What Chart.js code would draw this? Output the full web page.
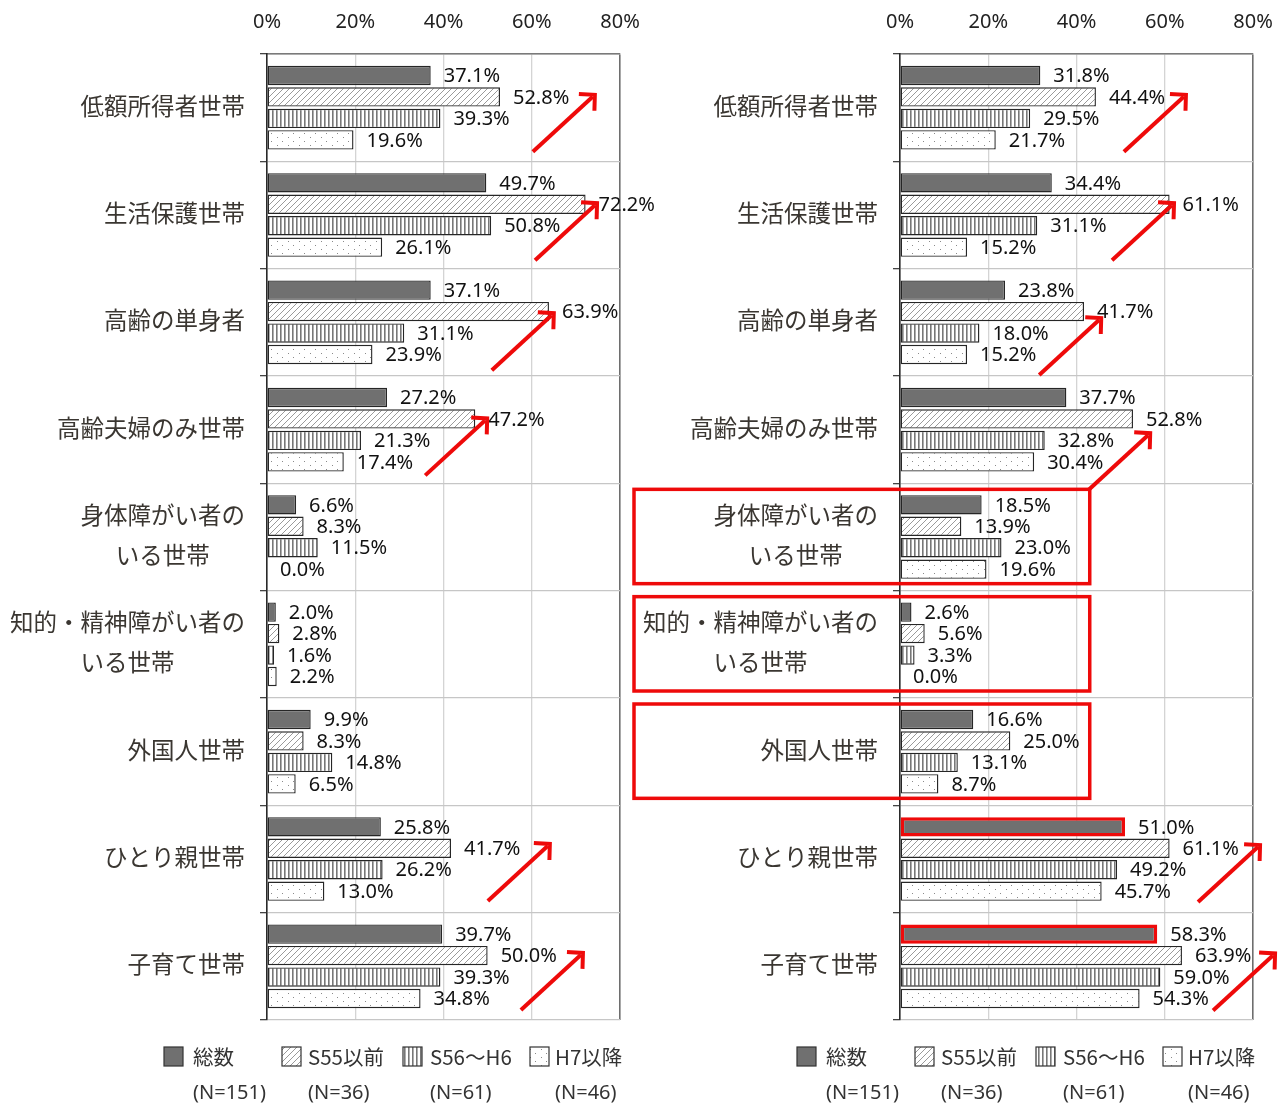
<!DOCTYPE html>
<html lang="ja">
<head>
<meta charset="utf-8">
<script src="https://cdn.jsdelivr.net/npm/chart.js@4.4.1/dist/chart.umd.min.js"></script>
<style>
  html, body { margin: 0; padding: 0; background: #fff; }
  #wrap { position: relative; width: 1285px; height: 1106px; overflow: hidden; }
  canvas { position: absolute; top: 0; }
  #leftChart { left: 0; }
  #rightChart { left: 630px; }
</style>
</head>
<body>
<div id="wrap">
  <canvas id="leftChart" width="660" height="1106"></canvas>
  <canvas id="rightChart" width="663" height="1106"></canvas>
</div>
<script>
// household categories (multi-line labels are arrays)
const categories = [
  ['低額所得者世帯'],
  ['生活保護世帯'],
  ['高齢の単身者'],
  ['高齢夫婦のみ世帯'],
  ['身体障がい者の', 'いる世帯'],
  ['知的・精神障がい者の', 'いる世帯'],
  ['外国人世帯'],
  ['ひとり親世帯'],
  ['子育て世帯']
];
const seriesNames = ['総数', 'S55以前', 'S56～H6', 'H7以降'];
const sampleSizes = ['(N=151)', '(N=36)', '(N=61)', '(N=46)'];

// left panel (%)
const leftTotal = [37.1, 49.7, 37.1, 27.2, 6.6, 2.0, 9.9, 25.8, 39.7];
const leftS55   = [52.8, 72.2, 63.9, 47.2, 8.3, 2.8, 8.3, 41.7, 50.0];
const leftS56H6 = [39.3, 50.8, 31.1, 21.3, 11.5, 1.6, 14.8, 26.2, 39.3];
const leftH7    = [19.6, 26.1, 23.9, 17.4, 0.0, 2.2, 6.5, 13.0, 34.8];

// right panel (%)
const rightTotal = [31.8, 34.4, 23.8, 37.7, 18.5, 2.6, 16.6, 51.0, 58.3];
const rightS55   = [44.4, 61.1, 41.7, 52.8, 13.9, 5.6, 25.0, 61.1, 63.9];
const rightS56H6 = [29.5, 31.1, 18.0, 32.8, 23.0, 3.3, 13.1, 49.2, 59.0];
const rightH7    = [21.7, 15.2, 15.2, 30.4, 19.6, 0.0, 8.7, 45.7, 54.3];

// red trend arrows: tip at (value %, category index + fraction of a category)
const leftArrows = [
  { cat: 0, value: 74.3, dy: -0.12 },
  { cat: 1, value: 74.8, dy: -0.11 },
  { cat: 2, value: 65.0, dy: -0.085 },
  { cat: 3, value: 49.9, dy: -0.105 },
  { cat: 7, value: 64.1, dy: -0.14 },
  { cat: 8, value: 71.6, dy: -0.125 }
];
const rightArrows = [
  { cat: 0, value: 64.8, dy: -0.12 },
  { cat: 1, value: 62.1, dy: -0.11 },
  { cat: 2, value: 45.6, dy: -0.04 },
  { cat: 3, value: 56.7, dy: 0.033 },
  { cat: 7, value: 81.6, dy: -0.13 },
  { cat: 8, value: 85.0, dy: -0.12 }
];
const rightBoxedCats = [4, 5, 6];
const rightOutlinedTotals = [7, 8];

const RED = '#ee0a0a';

function makePattern(kind) {
  const c = document.createElement('canvas');
  const g = c.getContext('2d');
  if (kind === 'diag') {
    c.width = 6; c.height = 6;
    g.fillStyle = '#fff'; g.fillRect(0, 0, 6, 6);
    g.strokeStyle = '#8f8f8f'; g.lineWidth = 0.9;
    g.beginPath();
    g.moveTo(-1, 7); g.lineTo(7, -1);
    g.moveTo(-1, 1); g.lineTo(1, -1);
    g.moveTo(5, 7); g.lineTo(7, 5);
    g.stroke();
  } else if (kind === 'vert') {
    c.width = 4; c.height = 4;
    g.fillStyle = '#fff'; g.fillRect(0, 0, 4, 4);
    g.fillStyle = '#777'; g.fillRect(0, 0, 1.6, 4);
  } else {
    c.width = 11; c.height = 8;
    g.fillStyle = '#fff'; g.fillRect(0, 0, 11, 8);
    g.fillStyle = '#8a8a8a';
    g.fillRect(2, 1, 1, 1); g.fillRect(7, 5, 1, 1);
  }
  return g.createPattern(c, 'repeat');
}

const fills = ['#707070', makePattern('diag'), makePattern('vert'), makePattern('dots')];

// category labels: block right-aligned to the axis, lines centred inside the block
const categoryLabels = {
  id: 'categoryLabels',
  afterDraw(chart) {
    const ctx = chart.ctx;
    const y = chart.scales.y;
    const right = chart.chartArea.left - 22;
    ctx.save();
    ctx.font = '23.5px "Noto Sans CJK JP", sans-serif';
    ctx.fillStyle = '#3a3631';
    ctx.textAlign = 'center';
    ctx.textBaseline = 'middle';
    chart.data.labels.forEach((lines, i) => {
      const cy = y.getPixelForValue(i);
      const maxW = Math.max(...lines.map(l => ctx.measureText(l).width));
      const cx = right - maxW / 2;
      lines.forEach((line, k) => {
        const ly = cy + (k - (lines.length - 1) / 2) * 40 - 2;
        ctx.fillText(line, cx, ly);
      });
    });
    ctx.restore();
  }
};

// value labels just past the end of each bar
const valueLabels = {
  id: 'valueLabels',
  afterDraw(chart) {
    const ctx = chart.ctx;
    ctx.save();
    ctx.font = '20px "Noto Sans", sans-serif';
    ctx.fillStyle = '#111';
    ctx.textAlign = 'left';
    ctx.textBaseline = 'middle';
    chart.data.datasets.forEach((ds, di) => {
      chart.getDatasetMeta(di).data.forEach((bar, i) => {
        ctx.fillText(ds.data[i].toFixed(1) + '%', bar.x + 13, bar.y + 1);
      });
    });
    ctx.restore();
  }
};

const trendArrows = {
  id: 'trendArrows',
  afterDraw(chart, args, opts) {
    const ctx = chart.ctx;
    const xs = chart.scales.x, ys = chart.scales.y;
    const catH = ys.getPixelForValue(1) - ys.getPixelForValue(0);
    ctx.save();
    ctx.strokeStyle = RED;
    ctx.lineWidth = 4;
    ctx.lineJoin = 'miter';
    (opts.arrows || []).forEach(a => {
      const tx = xs.getPixelForValue(a.value);
      const ty = ys.getPixelForValue(a.cat) + a.dy * catH;
      const sx = tx - 62, sy = ty + 57;
      const ang = Math.atan2(ty - sy, tx - sx);
      ctx.beginPath();
      ctx.moveTo(sx, sy);
      ctx.lineTo(tx - 3 * Math.cos(ang), ty - 3 * Math.sin(ang));
      ctx.stroke();
      ctx.beginPath();
      ctx.moveTo(tx + 16 * Math.cos(ang + Math.PI - 0.8), ty + 16 * Math.sin(ang + Math.PI - 0.8));
      ctx.lineTo(tx, ty);
      ctx.lineTo(tx + 16 * Math.cos(ang + Math.PI + 0.8), ty + 16 * Math.sin(ang + Math.PI + 0.8));
      ctx.stroke();
    });
    ctx.restore();
  }
};

const redBoxes = {
  id: 'redBoxes',
  afterDraw(chart, args, opts) {
    const cats = opts.cats || [];
    if (!cats.length) return;
    const ctx = chart.ctx;
    const xs = chart.scales.x, ys = chart.scales.y;
    const catH = ys.getPixelForValue(1) - ys.getPixelForValue(0);
    ctx.save();
    ctx.strokeStyle = RED;
    ctx.lineWidth = 3.5;
    cats.forEach(i => {
      const top = ys.getPixelForValue(i) - catH / 2 + 6;
      const bottom = ys.getPixelForValue(i) + catH / 2 - 7;
      const left = 4;
      const right = xs.getPixelForValue(43);
      ctx.strokeRect(left, top, right - left, bottom - top);
    });
    ctx.restore();
  }
};

// two-row legend under the plot: swatch + name, then sample size
const bottomLegend = {
  id: 'bottomLegend',
  afterDraw(chart) {
    const ctx = chart.ctx;
    const { left, bottom } = chart.chartArea;
    const swatchX = [-103, 15, 136, 263];
    const textX = [-74, 41, 163, 288];
    ctx.save();
    chart.data.datasets.forEach((ds, i) => {
      const sx = left + swatchX[i];
      ctx.fillStyle = ds.backgroundColor;
      ctx.fillRect(sx, bottom + 27, 19, 19);
      ctx.strokeStyle = '#333';
      ctx.lineWidth = 1.2;
      ctx.strokeRect(sx, bottom + 27, 19, 19);
      ctx.fillStyle = '#333';
      ctx.textAlign = 'left';
      ctx.textBaseline = 'middle';
      ctx.font = '20.5px "Noto Sans CJK JP", sans-serif';
      ctx.fillText(ds.label, left + textX[i], bottom + 37);
      ctx.font = '20px "Noto Sans", sans-serif';
      ctx.fillText(sampleSizes[i], left + textX[i], bottom + 73);
    });
    ctx.restore();
  }
};

function buildChart(canvasId, values, cfg) {
  const outlined = cfg.outlined || [];
  const datasets = seriesNames.map((name, si) => ({
    label: name,
    data: values[si],
    backgroundColor: fills[si],
    borderColor: c => (si === 0 && outlined.includes(c.dataIndex)) ? RED : '#262626',
    borderWidth: c => (si === 0 && outlined.includes(c.dataIndex)) ? 3.5 : 1.4,
    borderSkipped: false,
    categoryPercentage: 0.8,
    barPercentage: 0.9
  }));
  return new Chart(document.getElementById(canvasId), {
    type: 'bar',
    data: { labels: categories, datasets },
    plugins: [categoryLabels, valueLabels, trendArrows, redBoxes, bottomLegend],
    options: {
      indexAxis: 'y',
      responsive: false,
      animation: false,
      layout: { padding: { top: 0, right: 40, bottom: 86, left: 0 } },
      plugins: {
        legend: { display: false },
        tooltip: { enabled: false },
        trendArrows: { arrows: cfg.arrows },
        redBoxes: { cats: cfg.boxes || [] }
      },
      scales: {
        x: {
          position: 'top',
          min: 0,
          max: 80,
          ticks: {
            stepSize: 20,
            padding: 20,
            color: '#222',
            font: { family: '"Noto Sans", sans-serif', size: 20 },
            callback: v => v + '%'
          },
          grid: {
            drawTicks: false,
            color: c => (c.tick && c.tick.value === 80) ? '#6e6e6e' : '#d4d4d4',
            lineWidth: c => (c.tick && c.tick.value === 80) ? 1.6 : 1.3
          },
          border: { color: '#7a7a7a', width: 1.6 },
          afterFit: s => { s.height = 54; }
        },
        y: {
          ticks: { display: false },
          grid: {
            offset: true,
            tickLength: 7,
            tickColor: '#444',
            color: c => (c.index === 0 || c.index >= categories.length) ? '#8a8a8a' : '#c6c6c6',
            lineWidth: 1.3
          },
          border: { color: '#2a2a2a', width: 1.6 },
          afterFit: s => { s.width = cfg.axisWidth; }
        }
      }
    }
  });
}

buildChart('leftChart', [leftTotal, leftS55, leftS56H6, leftH7], {
  axisWidth: 267, arrows: leftArrows
});
buildChart('rightChart', [rightTotal, rightS55, rightS56H6, rightH7], {
  axisWidth: 270, arrows: rightArrows,
  boxes: rightBoxedCats, outlined: rightOutlinedTotals
});
</script>
</body>
</html>
